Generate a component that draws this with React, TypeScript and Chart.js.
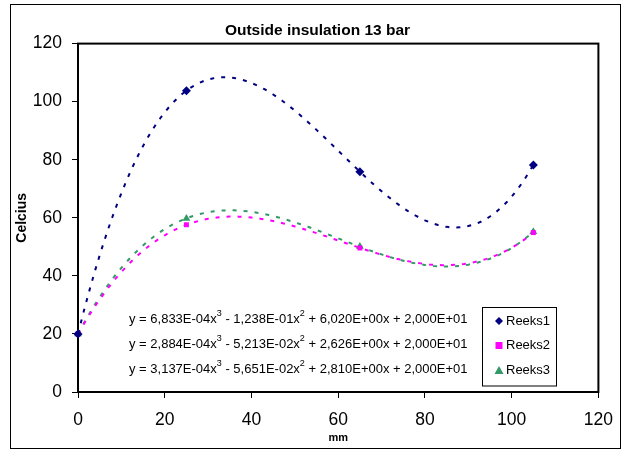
import React, { useEffect, useRef } from "react";
import { Chart, registerables } from "chart.js";

Chart.register(...registerables);

// ---- data ----
const chartTitle = "Outside insulation 13 bar";
const xAxisTitle = "mm";
const yAxisTitle = "Celcius";
const seriesNames = ["Reeks1", "Reeks2", "Reeks3"];
const xValues = [0, 25, 65, 105];
const reeks1 = [20, 103.8, 75.9, 78.2];
const reeks2 = [20, 57.6, 49.6, 54.9];
const reeks3 = [20, 59.8, 50.1, 55.2];
// cubic trendline coefficients as printed in the chart: [x^3, x^2, x, constant]
const trend1 = [6.833e-4, -1.238e-1, 6.02, 20];
const trend2 = [2.884e-4, -5.213e-2, 2.626, 20];
const trend3 = [3.137e-4, -5.651e-2, 2.81, 20];
const xTickValues = [0, 20, 40, 60, 80, 100, 120];
const yTickValues = [0, 20, 40, 60, 80, 100, 120];

const colors = ["#000080", "#FF00FF", "#339966"];
const FONT = "'Liberation Sans', Arial, sans-serif";

function sci(v: number): string {
  const [m, e] = Math.abs(v).toExponential(3).split("e");
  const en = parseInt(e, 10);
  return m.replace(".", ",") + "E" + (en < 0 ? "-" : "+") + String(Math.abs(en)).padStart(2, "0");
}
function sign(v: number) {
  return v < 0 ? "-" : "+";
}
function equationParts(c: number[]) {
  return [
    { t: `y = ${sci(c[0])}x`, sup: false },
    { t: "3", sup: true },
    { t: ` ${sign(c[1])} ${sci(c[1])}x`, sup: false },
    { t: "2", sup: true },
    { t: ` ${sign(c[2])} ${sci(c[2])}x ${sign(c[3])} ${sci(c[3])}`, sup: false },
  ];
}

function trendPoints(c: number[], xs: number[]) {
  const lo = xs[0];
  const hi = xs[xs.length - 1];
  const pts: { x: number; y: number }[] = [];
  for (let x = lo; x <= hi; x += 1) {
    pts.push({ x, y: c[0] * x * x * x + c[1] * x * x + c[2] * x + c[3] });
  }
  return pts;
}

function drawMarker(ctx: CanvasRenderingContext2D, kind: number, x: number, y: number) {
  ctx.fillStyle = colors[kind];
  ctx.beginPath();
  if (kind === 0) {
    const r = 4;
    ctx.moveTo(x, y - r);
    ctx.lineTo(x + r, y);
    ctx.lineTo(x, y + r);
    ctx.lineTo(x - r, y);
  } else if (kind === 1) {
    ctx.rect(x - 3.5, y - 3.5, 7, 7);
  } else {
    ctx.moveTo(x, y - 4.5);
    ctx.lineTo(x + 4.5, y + 3.5);
    ctx.lineTo(x - 4.5, y + 3.5);
  }
  ctx.closePath();
  ctx.fill();
}

const decorPlugin = {
  id: "decor",
  beforeDraw(chart: any) {
    const ctx = chart.ctx as CanvasRenderingContext2D;
    ctx.save();
    ctx.fillStyle = "#fff";
    ctx.fillRect(0, 0, chart.width, chart.height);
    ctx.strokeStyle = "#000";
    ctx.lineWidth = 1;
    ctx.strokeRect(10.5, 4.5, 610, 444);
    ctx.restore();
  },
  beforeDatasetsDraw(chart: any) {
    const ctx = chart.ctx as CanvasRenderingContext2D;
    const a = chart.chartArea;
    ctx.save();
    ctx.strokeStyle = "#000";
    ctx.lineWidth = 2;
    ctx.strokeRect(a.left, a.top, a.right - a.left, a.bottom - a.top);
    ctx.restore();
  },
  afterDatasetsDraw(chart: any) {
    const ctx = chart.ctx as CanvasRenderingContext2D;
    ctx.save();
    // equations
    const eqs = [trend1, trend2, trend3].map(equationParts);
    const eqY = [319, 344, 369];
    ctx.fillStyle = "#000";
    ctx.textBaseline = "middle";
    eqs.forEach((parts, i) => {
      let x = 129;
      parts.forEach((p) => {
        ctx.font = p.sup ? `9px ${FONT}` : `13px ${FONT}`;
        ctx.fillText(p.t, x, p.sup ? eqY[i] - 5 : eqY[i]);
        x += ctx.measureText(p.t).width;
      });
    });
    // legend
    ctx.fillStyle = "#fff";
    ctx.fillRect(482.5, 307.5, 74, 78.5);
    ctx.strokeStyle = "#000";
    ctx.lineWidth = 1;
    ctx.strokeRect(482.5, 307.5, 74, 78.5);
    const rows = [321, 345.5, 370.5];
    seriesNames.forEach((name, i) => {
      drawMarker(ctx, i, 499, rows[i]);
      ctx.fillStyle = "#000";
      ctx.font = `13px ${FONT}`;
      ctx.textBaseline = "middle";
      ctx.fillText(name, 506, rows[i]);
    });
    ctx.restore();
  },
};

export default function App() {
  const ref = useRef<HTMLCanvasElement>(null);
  useEffect(() => {
    const canvas = ref.current;
    if (!canvas) return;
    const seriesValues = [reeks1, reeks2, reeks3];
    const trends = [trend1, trend2, trend3];
    const pointStyles = ["rectRot", "rect", "triangle"];
    const pointRadii = [4.5, 3.5, 4.5];
    const markerSets = seriesValues.map((vals, i) => ({
      type: "scatter" as const,
      label: seriesNames[i],
      data: xValues.map((x, j) => ({ x, y: vals[j] })),
      showLine: false,
      pointStyle: pointStyles[i],
      pointRadius: pointRadii[i],
      pointBackgroundColor: colors[i],
      pointBorderColor: colors[i],
      pointBorderWidth: 0,
      order: 0,
      clip: false as any,
    }));
    const trendSets = trends.map((c, i) => ({
      type: "line" as const,
      label: seriesNames[i] + " trend",
      data: trendPoints(c, xValues),
      borderColor: colors[i],
      borderWidth: 2,
      borderDash: [4, 7],
      pointRadius: 0,
      fill: false,
      tension: 0,
      order: 1,
      clip: false as any,
    }));
    const tickFont = { family: FONT, size: 17.5 };
    const chart = new Chart(canvas, {
      type: "scatter",
      data: { datasets: [...trendSets, ...markerSets] as any },
      options: {
        responsive: false,
        animation: false,
        events: [],
        layout: { padding: { left: 10, right: 0, top: 4, bottom: 2 } },
        plugins: {
          legend: { display: false },
          tooltip: { enabled: false },
          title: {
            display: true,
            text: chartTitle,
            color: "#000",
            font: { family: FONT, size: 15.5, weight: "bold" },
            padding: { top: 17, bottom: 4 },
          },
        },
        scales: {
          x: {
            type: "linear",
            min: 0,
            max: 120,
            afterBuildTicks: (s: any) => {
              s.ticks = xTickValues.map((v) => ({ value: v }));
            },
            ticks: { color: "#000", font: tickFont, padding: 12, maxRotation: 0 },
            grid: { display: true, drawOnChartArea: false, drawTicks: true, tickLength: 6, color: "#000", lineWidth: 1 },
            border: { display: true, color: "#000", width: 2 },
            title: {
              display: true,
              text: xAxisTitle,
              color: "#000",
              font: { family: FONT, size: 11, weight: "bold" },
              padding: { top: 0, bottom: 3 },
            },
            afterFit: (s: any) => {
              s.height = 56;
            },
          },
          y: {
            type: "linear",
            min: 0,
            max: 120,
            afterBuildTicks: (s: any) => {
              s.ticks = yTickValues.map((v) => ({ value: v }));
            },
            ticks: { color: "#000", font: tickFont, padding: 10 },
            grid: { display: true, drawOnChartArea: false, drawTicks: true, tickLength: 6, color: "#000", lineWidth: 1 },
            border: { display: true, color: "#000", width: 2 },
            title: {
              display: true,
              text: yAxisTitle,
              color: "#000",
              font: { family: FONT, size: 14, weight: "bold" },
              padding: { top: 4, bottom: 0 },
            },
            afterFit: (s: any) => {
              s.width = 68;
            },
          },
          yRight: {
            type: "linear",
            position: "right",
            display: true,
            ticks: { display: false },
            grid: { display: false },
            border: { display: false },
            afterFit: (s: any) => {
              s.width = 21;
            },
          },
        },
      } as any,
      plugins: [decorPlugin],
    });
    return () => chart.destroy();
  }, []);
  return (
    <div style={{ position: "absolute", left: 0, top: 0, width: 625, height: 450 }}>
      <canvas ref={ref} width={625} height={450} style={{ display: "block" }} />
    </div>
  );
}
